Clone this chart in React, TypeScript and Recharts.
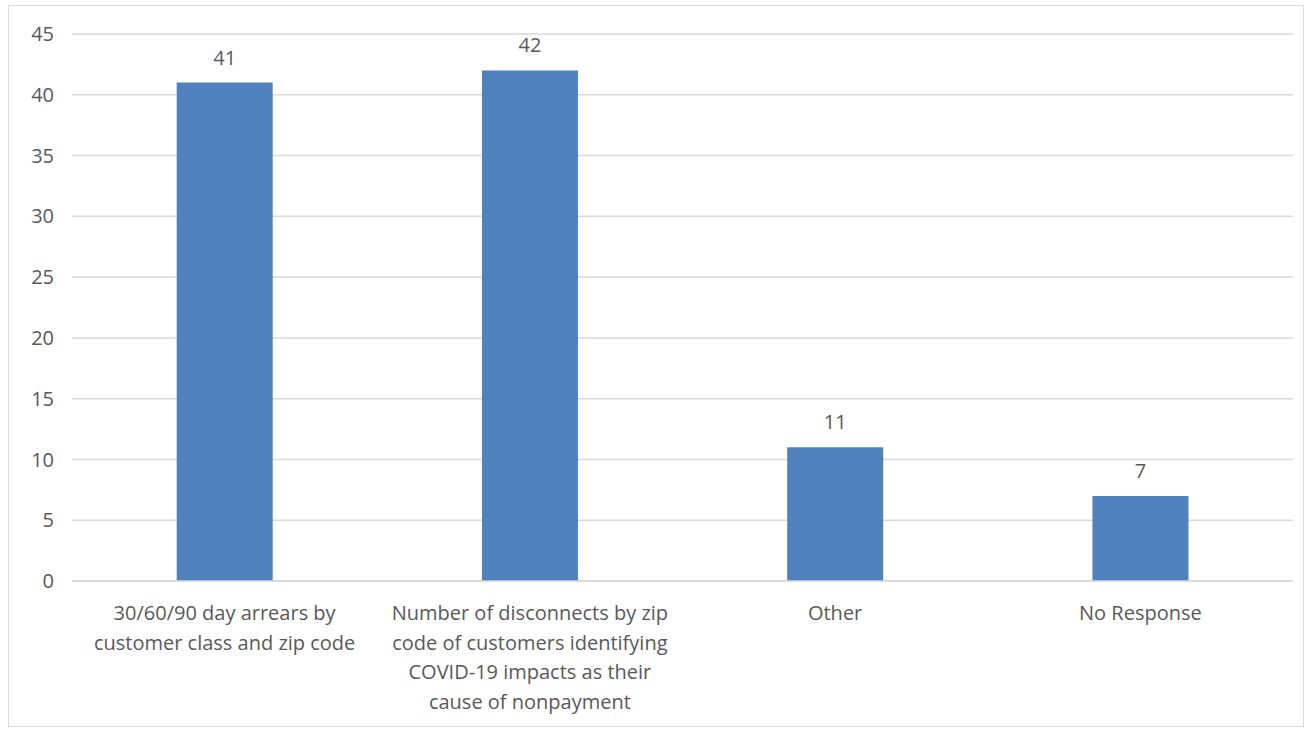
import React from "react";
import { BarChart, Bar, XAxis, YAxis, CartesianGrid, LabelList } from "recharts";

const categories = [
  "30/60/90 day arrears by customer class and zip code",
  "Number of disconnects by zip code of customers identifying COVID-19 impacts as their cause of nonpayment",
  "Other",
  "No Response",
];
const counts = [41, 42, 11, 7];
const tickLines: string[][] = [
  ["30/60/90 day arrears by", "customer class and zip code"],
  ["Number of disconnects by zip", "code of customers identifying", "COVID-19 impacts as their", "cause of nonpayment"],
  ["Other"],
  ["No Response"],
];
const yTicks = [0, 5, 10, 15, 20, 25, 30, 35, 40, 45];

const data = categories.map((name, i) => ({ name, count: counts[i], idx: i }));

const textColor = "#595959";
const font = "'Open Sans', sans-serif";

const CategoryTick = (props: any) => {
  const { x, y, payload } = props;
  const lines = tickLines[payload.index] ?? [String(payload.value)];
  return (
    <text x={x} y={y} textAnchor="middle" fill={textColor} fontSize={20} fontFamily={font}>
      {lines.map((line, i) => (
        <tspan key={i} x={x} dy={i === 0 ? 31 : 29.5}>
          {line}
        </tspan>
      ))}
    </text>
  );
};

const App: React.FC = () => {
  return (
    <div
      style={{
        position: "absolute",
        left: 8,
        top: 5,
        width: 1296,
        height: 722,
        boxSizing: "border-box",
        border: "1px solid #d9d9d9",
        background: "#fff",
      }}
    >
      <BarChart
        width={1294}
        height={720}
        data={data}
        margin={{ top: 28, right: 10, left: 0, bottom: 0 }}
        barCategoryGap="34.3%"
      >
        <CartesianGrid vertical={false} stroke="#d9d9d9" strokeWidth={1.5} />
        <XAxis
          dataKey="name"
          height={145}
          tickLine={false}
          axisLine={{ stroke: "#d9d9d9", strokeWidth: 1.5 }}
          tick={<CategoryTick />}
          interval={0}
        />
        <YAxis
          width={63}
          domain={[0, 45]}
          ticks={yTicks}
          tickLine={false}
          axisLine={false}
          tickMargin={12}
          tick={{ fill: textColor, fontSize: 20, fontFamily: font }}
        />
        <Bar dataKey="count" fill="#4f81bd" isAnimationActive={false}>
          <LabelList
            dataKey="count"
            position="top"
            offset={18}
            fill={textColor}
            fontSize={20}
            fontFamily={font}
          />
        </Bar>
      </BarChart>
    </div>
  );
};

export default App;
